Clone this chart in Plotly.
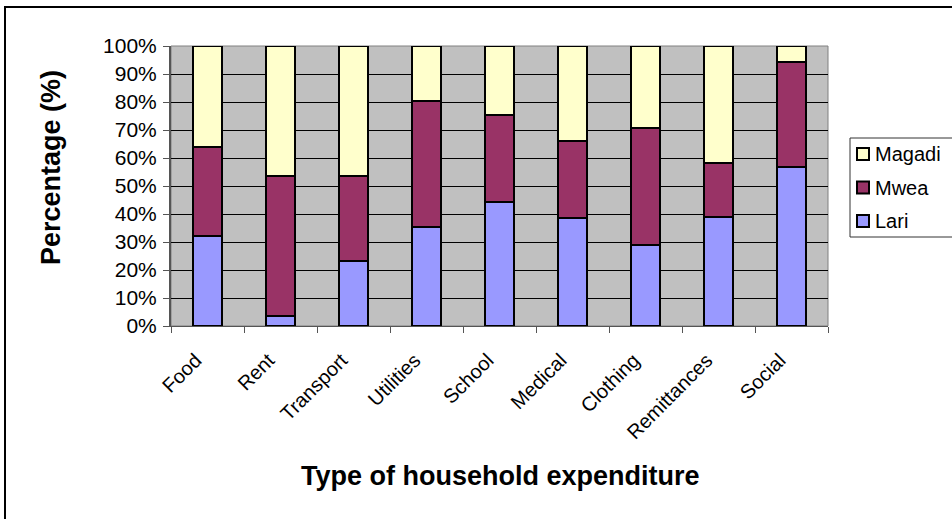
import plotly.graph_objects as go

# Share of household expenditure by location (percent of each category)
categories = ["Food", "Rent", "Transport", "Utilities", "School",
              "Medical", "Clothing", "Remittances", "Social"]
lari = [32.2, 3.5, 23.3, 35.4, 44.4, 38.5, 29.1, 38.8, 56.8]
mwea = [31.7, 50.2, 30.3, 45.0, 31.0, 27.4, 41.7, 19.4, 37.5]
magadi = [36.1, 46.3, 46.4, 19.6, 24.6, 34.1, 29.2, 41.8, 5.7]
y_ticks = [0, 10, 20, 30, 40, 50, 60, 70, 80, 90, 100]
y_tick_labels = [f"{v}%" for v in y_ticks]

series = [("Lari", lari, "#9999FF"),
          ("Mwea", mwea, "#993366"),
          ("Magadi", magadi, "#FFFFCC")]

FONT = "Liberation Sans, Arial, sans-serif"
W, H = 952, 519
L, R, T, B = 171, 124, 46, 193
PW, PH = W - L - R, H - T - B


def px(x):
    """Horizontal pixel -> paper coordinate."""
    return (x - L) / PW


def py(y):
    """Vertical pixel (from top) -> paper coordinate."""
    return (H - B - y) / PH


fig = go.Figure()
for name, vals, color in series:
    fig.add_trace(go.Bar(
        name=name, x=categories, y=vals,
        marker=dict(color=color, line=dict(color="black", width=2)),
        width=0.41,
    ))

shapes = [
    # plot area frame
    dict(type="rect", xref="paper", yref="paper", x0=0, y0=0, x1=1, y1=1,
         line=dict(color="#808080", width=1), layer="below"),
    # chart frame
    dict(type="rect", xref="paper", yref="paper",
         x0=px(5), y0=py(560), x1=px(1000), y1=py(7),
         line=dict(color="black", width=2)),
    # legend box
    dict(type="rect", xref="paper", yref="paper",
         x0=px(850), y0=py(237), x1=px(1000), y1=py(138),
         line=dict(color="#333333", width=1), fillcolor="white"),
]

annotations = [
    dict(text="<b>Type of household expenditure</b>",
         xref="paper", yref="paper", x=px(500), y=py(476),
         xanchor="center", yanchor="middle", showarrow=False,
         font=dict(family=FONT, size=27)),
    dict(text="<b>Percentage (%)</b>",
         xref="paper", yref="paper", x=px(51), y=py(168),
         xanchor="center", yanchor="middle", showarrow=False,
         textangle=-90,
         font=dict(family=FONT, size=27)),
]

# legend entries, top to bottom: Magadi, Mwea, Lari
for i, (name, _, color) in enumerate(reversed(series)):
    cy = 154 + i * 33.5
    shapes.append(dict(type="rect", xref="paper", yref="paper",
                       x0=px(857), x1=px(869), y0=py(cy + 6), y1=py(cy - 6),
                       line=dict(color="black", width=2), fillcolor=color))
    annotations.append(dict(text=name, xref="paper", yref="paper",
                            x=px(873), y=py(cy), xanchor="left", yanchor="middle",
                            showarrow=False, font=dict(family=FONT, size=20)))

# slanted category labels sit a little below-left of their tick
pad = "\u00a0" * 3
x_tick_text = [c + pad for c in categories]

fig.update_layout(
    barmode="stack",
    width=W, height=H,
    margin=dict(l=L, r=R, t=T, b=B, autoexpand=False),
    paper_bgcolor="white",
    plot_bgcolor="#C0C0C0",
    font=dict(family=FONT, size=20, color="black"),
    showlegend=False,
    xaxis=dict(
        tickvals=categories, ticktext=x_tick_text,
        tickangle=-45,
        tickfont=dict(family=FONT, size=20),
        ticklabelstandoff=2,
        showline=True, linecolor="#555555", linewidth=1,
        ticks="outside", ticklen=6, tickcolor="#555555",
        tickson="boundaries",
        showgrid=False,
    ),
    yaxis=dict(
        range=[0, 100],
        tickvals=y_ticks, ticktext=y_tick_labels,
        tickfont=dict(family=FONT, size=21),
        ticklabelstandoff=2,
        showline=True, linecolor="#555555", linewidth=2,
        ticks="outside", ticklen=6, tickcolor="#555555",
        showgrid=True, gridcolor="black", gridwidth=1,
        zeroline=False,
    ),
    annotations=annotations,
    shapes=shapes,
)

fig.write_html("out.html")
